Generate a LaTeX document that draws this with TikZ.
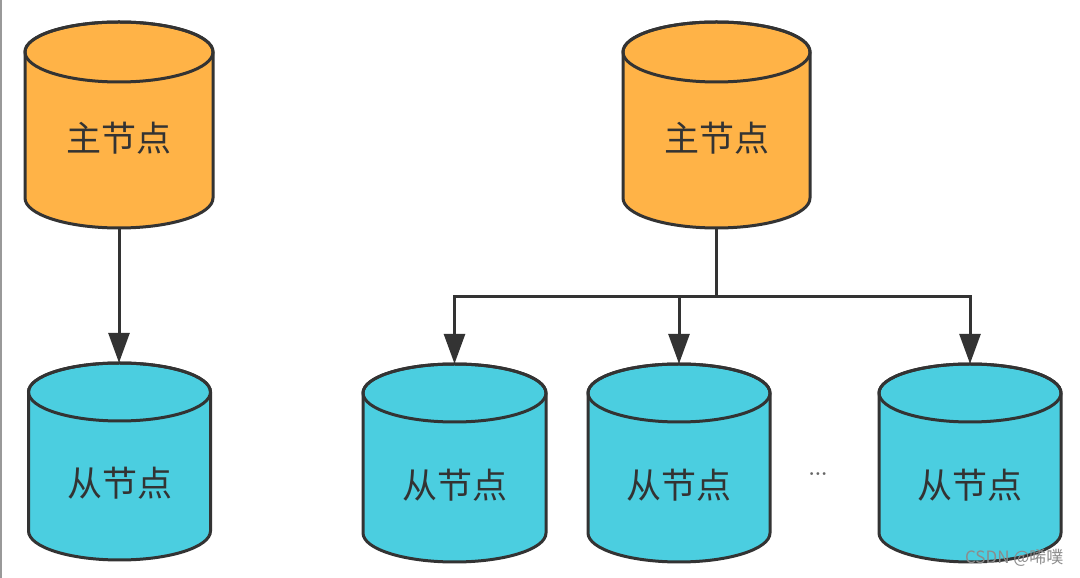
\documentclass[tikz,border=0pt]{standalone}
\usepackage{fontspec}
\newfontfamily\cjk{Noto Sans CJK SC}
\usetikzlibrary{arrows.meta,calc}
\definecolor{masterc}{HTML}{FFB347}
\definecolor{slavec}{HTML}{4BCEE0}
\definecolor{strokec}{HTML}{333333}
\tikzset{
  cylbody/.style={draw=strokec, line width=3pt},
  dblabel/.style={inner sep=0pt, text=strokec, font=\cjk\fontsize{35}{35}\selectfont},
  arr/.style={draw=strokec, line width=3pt, -{Triangle[length=30pt,width=21pt]}},
  conn/.style={draw=strokec, line width=3pt},
}
% #1 name, #2 cx, #3 cy, #4 half width, #5 half height, #6 ry, #7 fill, #8 text, #9 text offset
\newcommand\dbnode[9]{%
  \filldraw[cylbody, fill=#7] (#2-#4,#3+#5-#6) -- (#2-#4,#3-#5+#6)
     arc[start angle=180,end angle=360,x radius=#4,y radius=#6]
     -- (#2+#4,#3+#5-#6)
     arc[start angle=0,end angle=180,x radius=#4,y radius=#6] -- cycle;
  \draw[cylbody] (#2,#3+#5-#6) ellipse[x radius=#4,y radius=#6];
  \node[dblabel, minimum width=2*#4 pt, minimum height=2*#5 pt, anchor=center] (#1) at (#2,#3) {};
  \node[dblabel] at (#2,#3-#9) {#8};
}
\begin{document}
\begin{tikzpicture}[x=1pt,y=1pt]
\useasboundingbox (0,0) rectangle (1080,578);
\fill[white] (0,0) rectangle (1080,578);
\draw[gray!80, line width=2pt] (1,0) -- (1,578);
% masters
\dbnode{m1}{119}{453}{94}{103}{30}{masterc}{主节点}{13}
\dbnode{m2}{716.5}{453}{93.5}{103}{30}{masterc}{主节点}{13}
% slaves
\dbnode{s1}{119.5}{116.5}{91}{98.5}{29}{slavec}{从节点}{22}
\dbnode{s2}{454.5}{115}{91.5}{99}{29}{slavec}{从节点}{22}
\dbnode{s3}{679}{115}{91}{99}{29}{slavec}{从节点}{22}
\dbnode{s4}{970}{115}{91}{99}{29}{slavec}{从节点}{22}
% connectors
\draw[arr] (m1.south) -- (m1.south |- s1.north);
\coordinate (j) at ($(m2.south)+(0,-68)$);
\draw[conn] (m2.south) -- (j);
\draw[arr] (j) -| (s2.north);
\draw[arr] (j) -| (s3.north);
\draw[arr] (j) -| (s4.north);
\node[text=gray!80!black, font=\bfseries\fontsize{20}{20}\selectfont] (dots) at (818,104) {...};
\node[text=gray!90, font=\cjk\fontsize{17}{17}\selectfont, anchor=east] (wm) at (1067,20) {CSDN @唏噗};
\end{tikzpicture}
\end{document}
